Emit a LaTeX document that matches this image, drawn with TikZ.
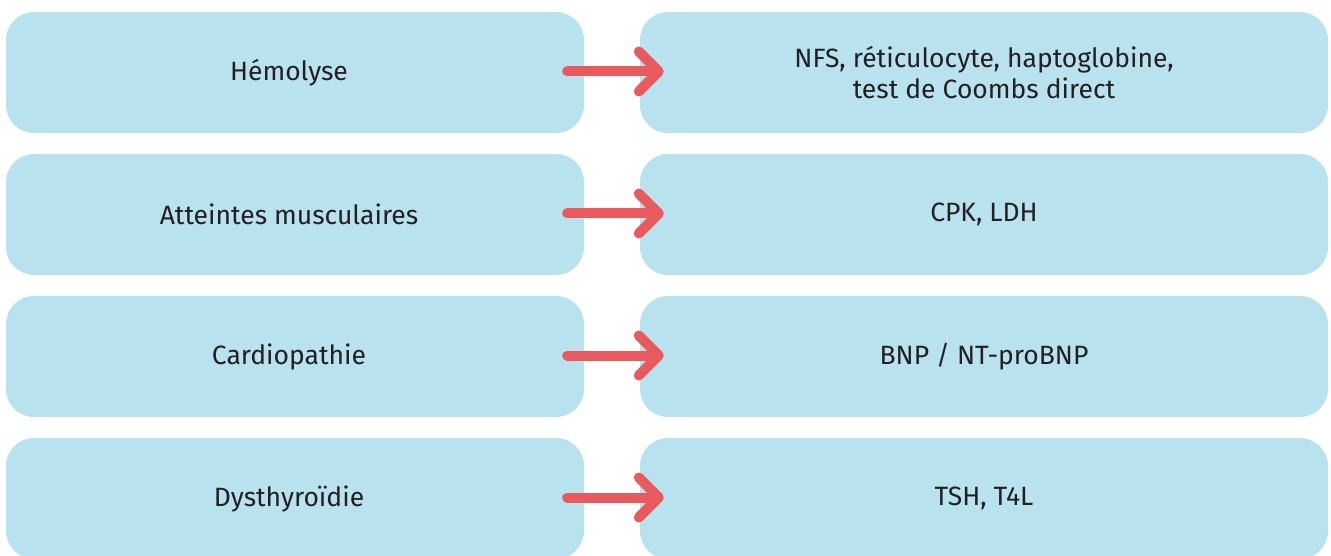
\documentclass[tikz,border=0pt]{standalone}
\usepackage{fontspec}
\setmainfont{Fira Sans}
\usetikzlibrary{arrows.meta}
\definecolor{boxblue}{HTML}{B8E2EE}
\definecolor{arrred}{HTML}{E95A5F}
\definecolor{txt}{HTML}{231F20}
\tikzset{
  box/.style={fill=boxblue, draw=none, rounded corners=28pt, inner sep=0pt},
  lbox/.style={box, minimum width=578pt, minimum height=121pt},
  rbox/.style={box, minimum width=688pt, minimum height=121pt},
  lbl/.style={font=\fontsize{26.5}{31}\selectfont, text=txt, align=center},
  arr/.style={draw=arrred, line width=10pt, line cap=round,
    -{Straight Barb[round, length=20pt, width=40pt]}}
}
\begin{document}
\begin{tikzpicture}[x=1pt,y=-1pt]
\useasboundingbox (0,0) rectangle (1331,556);
\clip (0,0) rectangle (1331,556);
\foreach \i/\l/\r in {1/{Hémolyse}/{NFS, réticulocyte, haptoglobine,\\test de Coombs direct},
                      2/{Atteintes musculaires}/{CPK, LDH},
                      3/{Cardiopathie}/{BNP / NT-proBNP},
                      4/{Dysthyroïdie}/{TSH, T4L}}{
  \pgfmathsetmacro{\yc}{72.5+142*(\i-1)}
  \node[lbox] (L\i) at (295,\yc) {};
  \node[rbox] (R\i) at (984,\yc) {};
  \node[lbl] (LT\i) at (289,\yc) {\l};
  \node[lbl] (RT\i) at (984,\yc) {\r};
  \draw[arr] ([xshift=-17pt,yshift=1pt]L\i.east) -- ([xshift=24pt,yshift=1pt]R\i.west);
}
\end{tikzpicture}
\end{document}
